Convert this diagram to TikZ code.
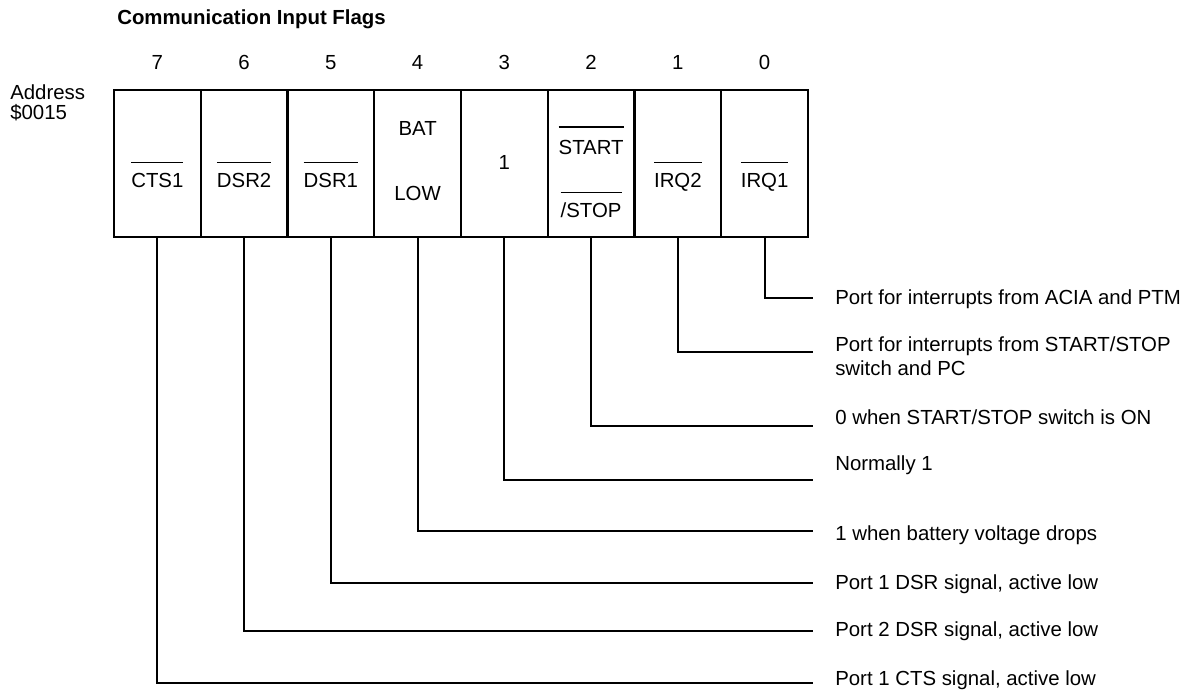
\documentclass[tikz,border=0pt]{standalone}
\usepackage{fontspec}
\setmainfont{Liberation Sans}
\usetikzlibrary{positioning}
% overline set a little above the letters
\newcommand{\ovl}[2][7pt]{{\setbox0\hbox{#2}\rlap{\rule[\dimexpr\ht0+#1\relax]{\wd0}{0.9pt}}\box0}}

\begin{document}
\begin{tikzpicture}[x=0.025cm, y=-0.025cm,
		every node/.style={font=\fontsize{14.5}{16.4}\selectfont, inner sep=0pt},
		cell/.style={draw, line width=1.6pt, minimum width=2.169cm,
			minimum height=3.675cm, outer sep=0pt},
		lead/.style={line width=1.3pt},
		bitnum/.style={anchor=base},
		flag/.style={anchor=base},
		desc/.style={anchor=base west, align=left},
		]
		\useasboundingbox (0,0) rectangle (1201,693);

		% Title and address
		\node[anchor=base west, font=\fontsize{14.5}{16.4}\selectfont\bfseries] (title)
		at (117,24) {Communication Input Flags};
		\node[anchor=base west, align=left, font=\fontsize{14.5}{14.2}\selectfont]
		(addr) at (10,119) {Address\\\$0015};

		% Register cells
		\foreach \b in {0,...,7} {
			\node[cell] (c\b) at ({808-86.75*(\b+0.5)},163.5) {};
			\path (c\b.north) ++(0,-20) node[bitnum] (n\b) {\b};
		}

		% Cell labels
		\foreach \b/\txt in {7/CTS1, 6/DSR2, 5/DSR1, 1/IRQ2, 0/IRQ1} {
			\path (c\b.center) ++(0,24) node[flag] (f\b) {\ovl{\txt}};
		}
		\path (c4.center) ++(0,-28) node[flag] (f4a) {BAT};
		\path (c4.center) ++(0,37) node[flag] (f4b) {LOW};
		\path (c3.center) ++(0,6) node[flag] (f3) {1};
		\path (c2.center) ++(0,-9) node[flag] (f2a) {\ovl[9pt]{START}};
		\path (c2.center) ++(0,54) node[flag] (f2b) {\ovl{/STOP}};

		% Descriptions
		\node[desc] (d0) at (835,304) {Port for interrupts from ACIA and PTM};
		\node[desc] (d1) at (835,375) {Port for interrupts from START/STOP\\switch and PC};
		\node[desc] (d2) at (835,424) {0 when START/STOP switch is ON};
		\node[desc] (d3) at (835,470) {Normally 1};
		\node[desc] (d4) at (835,540) {1 when battery voltage drops};
		\node[desc] (d5) at (835,589) {Port 1 DSR signal, active low};
		\node[desc] (d6) at (835,636) {Port 2 DSR signal, active low};
		\node[desc] (d7) at (835,685) {Port 1 CTS signal, active low};

		% Leader lines
		\foreach \b/\y in {0/298, 1/352, 2/426, 3/480, 4/531, 5/583, 6/631, 7/683} {
			\coordinate (e\b) at (813,\y);
			\draw[lead] (c\b.south) |- (e\b);
		}
	\end{tikzpicture}
\end{document}
